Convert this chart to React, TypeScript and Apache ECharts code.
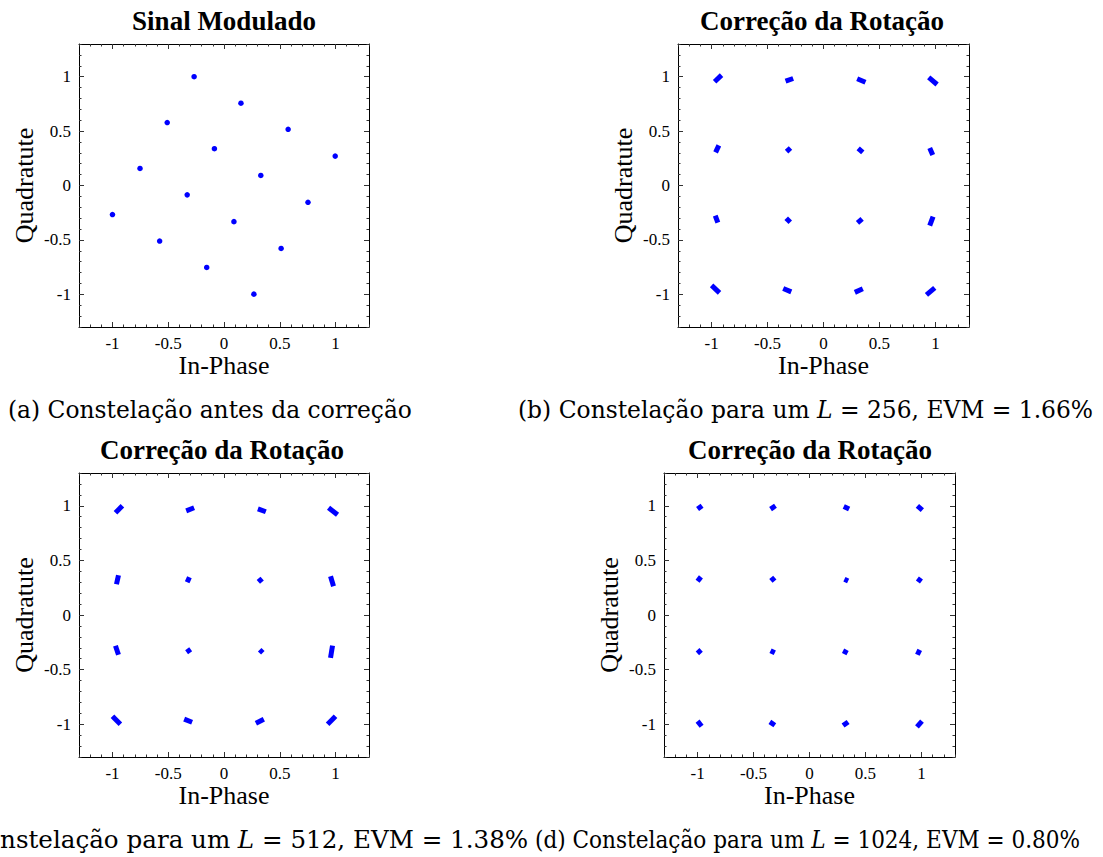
import React, { useEffect, useRef } from "react";
import * as echarts from "echarts";

// ---------- data ----------
const majorTicks = [-1, -0.5, 0, 0.5, 1];

// (a) modulated signal, one point per symbol
const iA = [-0.268, 0.152, 0.575, 0.997, -0.509, -0.086, 0.33, 0.753, -0.753, -0.33, 0.089, 0.512, -1.0, -0.577, -0.155, 0.268];
const qA = [1.0, 0.756, 0.516, 0.27, 0.578, 0.338, 0.092, -0.154, 0.157, -0.086, -0.332, -0.578, -0.267, -0.51, -0.753, -0.998];

// (b)-(d) each cluster drawn as a short streak: [I start, Q start, I end, Q end]
const streaksB = [
  [-0.973, 0.953, -0.911, 1.014],
  [-0.339, 0.958, -0.271, 0.983],
  [0.301, 0.981, 0.375, 0.949],
  [0.94, 0.993, 1.015, 0.928],
  [-0.935, 0.369, -0.964, 0.304],
  [-0.295, 0.345, -0.33, 0.311],
  [0.31, 0.341, 0.351, 0.304],
  [0.949, 0.345, 0.976, 0.28],
  [-0.967, -0.276, -0.944, -0.341],
  [-0.333, -0.3, -0.297, -0.337],
  [0.345, -0.307, 0.304, -0.344],
  [0.979, -0.286, 0.949, -0.369],
  [-1.0, -0.918, -0.929, -0.986],
  [-0.36, -0.946, -0.288, -0.977],
  [0.28, -0.982, 0.351, -0.949],
  [0.92, -1.005, 0.994, -0.94],
];

const streaksC = [
  [-0.973, 0.935, -0.911, 1.0],
  [-0.339, 0.954, -0.268, 0.982],
  [0.304, 0.972, 0.375, 0.945],
  [0.9375, 0.982, 1.018, 0.917],
  [-0.946, 0.364, -0.964, 0.281],
  [-0.31, 0.346, -0.33, 0.3],
  [0.31, 0.336, 0.34, 0.3],
  [0.955, 0.355, 0.982, 0.263],
  [-0.973, -0.281, -0.946, -0.364],
  [-0.33, -0.309, -0.304, -0.346],
  [0.32, -0.318, 0.348, -0.346],
  [0.973, -0.281, 0.955, -0.392],
  [-1.0, -0.926, -0.929, -1.0],
  [-0.357, -0.954, -0.286, -0.982],
  [0.286, -0.991, 0.357, -0.954],
  [0.929, -1.0, 1.0, -0.926],
];

const streaksD = [
  [-1.0, 0.97, -0.96, 1.0],
  [-0.348, 0.97, -0.304, 1.0],
  [0.306, 0.993, 0.354, 0.97],
  [0.964, 1.0, 1.008, 0.96],
  [-1.0, 0.309, -0.97, 0.349],
  [-0.345, 0.312, -0.31, 0.343],
  [0.312, 0.328, 0.345, 0.312],
  [0.964, 0.334, 1.0, 0.306],
  [-1.0, -0.318, -0.97, -0.352],
  [-0.348, -0.327, -0.31, -0.346],
  [0.33, -0.318, 0.31, -0.358],
  [0.985, -0.32, 0.964, -0.364],
  [-1.0, -0.972, -0.964, -1.018],
  [-0.354, -0.979, -0.31, -1.009],
  [0.3, -1.012, 0.345, -0.979],
  [0.96, -1.024, 1.005, -0.972],
];

const titles = ["Sinal Modulado", "Correção da Rotação", "Correção da Rotação", "Correção da Rotação"];
const captionPre = [
  "(a) Constelação antes da correção",
  "(b) Constelação para um ",
  "(c) Constelação para um ",
  "(d) Constelação para um ",
];
const captionVar = ["", "L", "L", "L"];
const captionPost = ["", " = 256, EVM = 1.66%", " = 512, EVM = 1.38%", " = 1024, EVM = 0.80%"];

// ---------- layout ----------
const panels = [
  { left: 79, top: 44, width: 290, height: 283, titleX: 224, titleY: 21 },
  { left: 678, top: 44, width: 291, height: 283, titleX: 822, titleY: 21 },
  { left: 79, top: 473, width: 290, height: 284, titleX: 222, titleY: 450 },
  { left: 664, top: 473, width: 291, height: 284, titleX: 810, titleY: 450 },
];
// caption placement: start x (or right end for "right"), visible width, hidden leading text
const captionPos = [
  { x: 8, y: 410, align: "left", width: 0, hidden: "" },
  { x: 518, y: 410, align: "left", width: 575, hidden: "" },
  { x: 528, y: 840, align: "right", width: 528, hidden: "(c) Co" },
  { x: 535, y: 840, align: "left", width: 545, hidden: "" },
];

const SERIF = "Liberation Serif";
const CAP_FONT = "DejaVu Serif";
const BLUE = "#0000ff";

function makeMeasure() {
  const ctx = document.createElement("canvas").getContext("2d") as CanvasRenderingContext2D;
  return (text: string, size: number, italic: boolean) => {
    ctx.font = `${italic ? "italic " : ""}${size}px "${CAP_FONT}"`;
    return ctx.measureText(text).width;
  };
}

function buildOption() {
  const grid: any[] = [];
  const xAxis: any[] = [];
  const yAxis: any[] = [];
  const series: any[] = [];
  const graphic: any[] = [];
  const measure = makeMeasure();
  const capWidth = (k: number, size: number) =>
    measure(captionPre[k], size, false) + measure(captionVar[k], size, true) + measure(captionPost[k], size, false);
  // font size set so that caption (b) fills its width
  const capSize = (20 * captionPos[1].width) / capWidth(1, 20);

  panels.forEach((p, k) => {
    const rect = { left: p.left, top: p.top, width: p.width, height: p.height, containLabel: false, show: false };
    grid.push({ ...rect }, { ...rect });
    const g0 = 2 * k;
    const g1 = 2 * k + 1;
    const base = { type: "value", min: -1.3, max: 1.3, interval: 0.1, splitLine: { show: false } };
    const line = { show: true, onZero: false, lineStyle: { color: "#000", width: 1 } };
    const minorTick = { show: true, inside: true, length: 2.5, lineStyle: { color: "#333", width: 1 } };
    const labelStyle = {
      show: true,
      customValues: majorTicks,
      color: "#000",
      fontFamily: SERIF,
      fontSize: 17,
      margin: 8,
    };
    xAxis.push({
      ...base, gridIndex: g0, position: "bottom", axisLine: line, axisTick: minorTick, axisLabel: labelStyle,
      name: "In-Phase", nameLocation: "middle", nameGap: 25,
      nameTextStyle: { fontFamily: SERIF, fontSize: 26, color: "#000" },
    });
    xAxis.push({ ...base, gridIndex: g0, position: "top", axisLine: line, axisTick: minorTick, axisLabel: { show: false } });
    yAxis.push({
      ...base, gridIndex: g0, position: "left", axisLine: line, axisTick: minorTick, axisLabel: labelStyle,
      name: "Quadratute", nameLocation: "middle", nameGap: 42, nameRotate: 90,
      nameTextStyle: { fontFamily: SERIF, fontSize: 26, color: "#000" },
    });
    yAxis.push({ ...base, gridIndex: g0, position: "right", axisLine: line, axisTick: minorTick, axisLabel: { show: false } });
    const majorTick = { show: true, inside: true, length: 5, customValues: majorTicks, lineStyle: { color: "#333", width: 1 } };
    const noLine = { show: false, onZero: false };
    xAxis.push({ ...base, gridIndex: g1, position: "bottom", axisLine: noLine, axisTick: majorTick, axisLabel: { show: false } });
    xAxis.push({ ...base, gridIndex: g1, position: "top", axisLine: noLine, axisTick: majorTick, axisLabel: { show: false } });
    yAxis.push({ ...base, gridIndex: g1, position: "left", axisLine: noLine, axisTick: majorTick, axisLabel: { show: false } });
    yAxis.push({ ...base, gridIndex: g1, position: "right", axisLine: noLine, axisTick: majorTick, axisLabel: { show: false } });

    const xi = 4 * k;
    const yi = 4 * k;
    if (k === 0) {
      series.push({
        type: "scatter",
        xAxisIndex: xi,
        yAxisIndex: yi,
        symbol: "circle",
        symbolSize: 5.5,
        itemStyle: { color: BLUE, opacity: 1 },
        data: iA.map((v, j) => [v, qA[j]]),
      });
    } else {
      const s = k === 1 ? streaksB : k === 2 ? streaksC : streaksD;
      series.push({
        type: "lines",
        coordinateSystem: "cartesian2d",
        xAxisIndex: xi,
        yAxisIndex: yi,
        lineStyle: { color: BLUE, width: 5, opacity: 1, cap: "butt" },
        data: s.map((r) => ({ coords: [[r[0], r[1]], [r[2], r[3]]] })),
      });
    }

    graphic.push({
      type: "text",
      x: p.titleX,
      y: p.titleY,
      style: {
        text: titles[k],
        fontFamily: SERIF,
        fontWeight: "bold",
        fontSize: 27,
        fill: "#000",
        textAlign: "center",
        textVerticalAlign: "middle",
      },
    });

    // caption: plain parts + italic L, laid out side by side (bottom row is horizontally condensed)
    const c = captionPos[k];
    const natural = capWidth(k, capSize);
    const hiddenW = c.hidden ? measure(c.hidden, capSize, false) : 0;
    const sx = c.width > 0 ? c.width / (natural - hiddenW) : 1;
    const total = natural * sx;
    let x = c.align === "left" ? c.x : c.x - total;
    const parts = [
      { t: captionPre[k], it: false },
      { t: captionVar[k], it: true },
      { t: captionPost[k], it: false },
    ];
    parts.forEach((part) => {
      if (!part.t) return;
      graphic.push({
        type: "text",
        x,
        y: c.y,
        scaleX: sx,
        style: {
          text: part.t,
          fontFamily: CAP_FONT,
          fontSize: capSize,
          fontStyle: part.it ? "italic" : "normal",
          fill: "#000",
          textAlign: "left",
          textVerticalAlign: "middle",
        },
      });
      x += measure(part.t, capSize, part.it) * sx;
    });
  });

  return { animation: false, backgroundColor: "#fff", grid, xAxis, yAxis, series, graphic };
}

export default function App() {
  const ref = useRef<HTMLDivElement>(null);
  useEffect(() => {
    if (!ref.current) return;
    const chart = echarts.init(ref.current, undefined, { renderer: "svg" });
    chart.setOption(buildOption() as any);
    return () => chart.dispose();
  }, []);
  return (
    <div
      ref={ref}
      style={{ position: "fixed", left: 0, top: 0, width: 1103, height: 857, background: "#fff" }}
    />
  );
}
